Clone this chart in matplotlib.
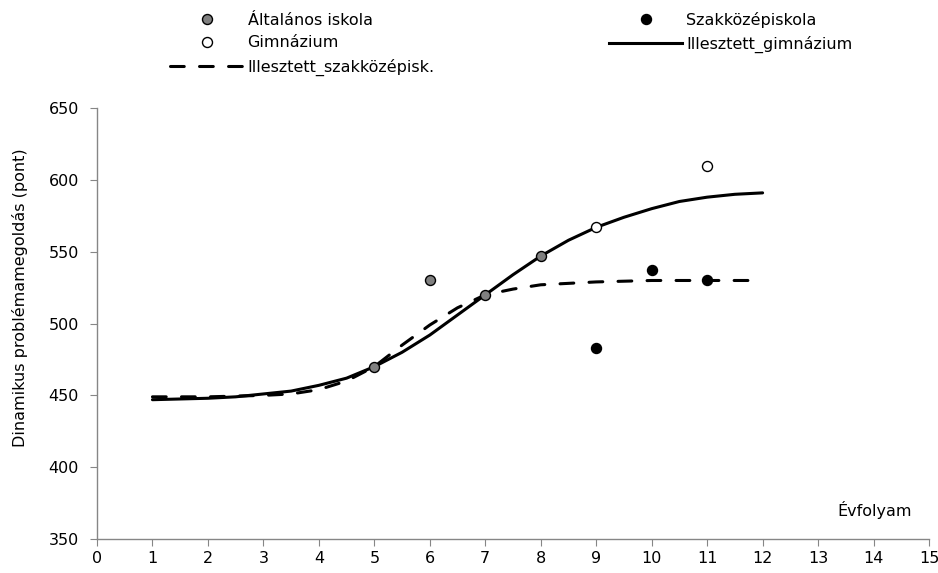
import matplotlib.pyplot as plt
from matplotlib.lines import Line2D

# measured points
alt_x = [5, 6, 7, 8]
alt_y = [470, 530, 520, 547]
gim_x = [9, 11]
gim_y = [567, 610]
szak_x = [9, 10, 11]
szak_y = [483, 537, 530]

# fitted curves, every half grade
fit_x = [1, 1.5, 2, 2.5, 3, 3.5, 4, 4.5, 5, 5.5, 6, 6.5, 7, 7.5, 8, 8.5,
         9, 9.5, 10, 10.5, 11, 11.5, 12]
fit_gim = [447, 447.5, 448, 449, 451, 453, 457, 462, 470, 480, 492, 506, 520,
           534, 547, 558, 567, 574, 580, 585, 588, 590, 591]
fit_szak = [449, 449, 449, 449.5, 450, 451, 454, 460, 470, 485, 499, 511, 520,
            524, 527, 528, 529, 529.5, 530, 530, 530, 530, 530]

x_ticks = list(range(0, 16))
y_ticks = [350, 400, 450, 500, 550, 600, 650]

plt.rcParams['font.family'] = 'DejaVu Sans'
axis_grey = '#868686'
fs = 11.5
dash = (4.5, 5)

fig = plt.figure(figsize=(9.38, 5.73), dpi=100)
ax = fig.add_axes([0.1034, 0.0593, 0.887, 0.752])

ax.plot(fit_x, fit_gim, color='black', lw=2.2, solid_capstyle='round', zorder=2)
ax.plot(fit_x, fit_szak, color='black', lw=2.2, dashes=dash,
        dash_capstyle='round', zorder=2)

mk = dict(ls='none', marker='o', ms=7.2, mec='black', mew=1.0, zorder=3)
ax.plot(alt_x, alt_y, mfc='#808080', **mk)
ax.plot(gim_x, gim_y, mfc='white', **mk)
ax.plot(szak_x, szak_y, mfc='black', **mk)

ax.set_xlim(0, 15)
ax.set_ylim(350, 650)
ax.set_xticks(x_ticks)
ax.set_yticks(y_ticks)
ax.tick_params(direction='out', length=5, color=axis_grey, labelsize=fs,
               labelcolor='black')
ax.tick_params(axis='y', pad=8)
for side in ['top', 'right']:
    ax.spines[side].set_visible(False)
for side in ['left', 'bottom']:
    ax.spines[side].set_color(axis_grey)
    ax.spines[side].set_linewidth(1.0)

ax.set_ylabel('Dinamikus problémamegoldás (pont)', fontsize=fs)
ax.yaxis.set_label_coords(-0.083, 0.56)
ax.text(14.7, 370, 'Évfolyam', ha='right', va='center', fontsize=fs)

h_alt = Line2D([], [], mfc='#808080', **mk)
h_gim = Line2D([], [], mfc='white', **mk)
h_szak = Line2D([], [], mfc='black', **mk)
h_fgim = Line2D([], [], color='black', lw=2.2)
h_fszak = Line2D([], [], color='black', lw=2.2, dashes=dash,
                 dash_capstyle='round')
fig.legend([h_alt, h_gim, h_fszak, h_szak, h_fgim],
           ['Általános iskola', 'Gimnázium', 'Illesztett_szakközépisk.',
            'Szakközépiskola', 'Illesztett_gimnázium'],
           ncol=2, frameon=False, fontsize=fs, handlelength=4.6,
           handletextpad=0.25, labelspacing=0.5, columnspacing=10.9,
           loc='upper left', bbox_to_anchor=(0.166, 1.005))

fig.savefig('out.png', dpi=100)
